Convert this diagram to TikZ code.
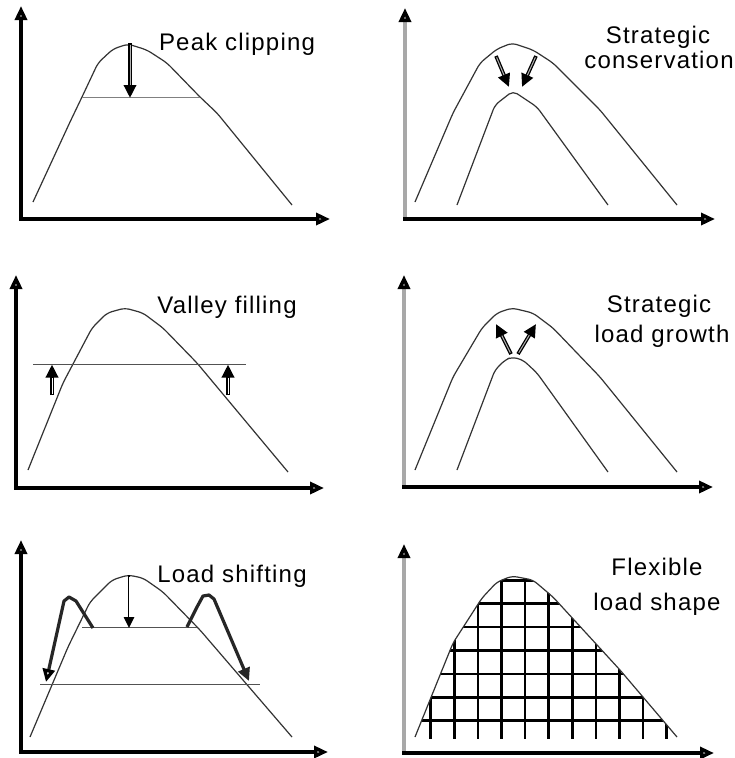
\documentclass[tikz,border=0pt]{standalone}
\usepackage{fontspec}
\setmainfont{Liberation Sans}[LetterSpace=5]
\usetikzlibrary{arrows.meta}
\definecolor{curvec}{HTML}{333333}
\definecolor{axgray}{HTML}{A8A8A8}
\tikzset{
  curve/.style={draw=curvec, line width=1.2pt, line join=round, rounded corners=5pt},
  level/.style={draw=curvec!85, line width=1pt},
  axisk/.style={draw=black, line width=3.4pt, -{Triangle[length=14pt,width=12pt,fill=gray!45]}},
  axisg/.style={draw=axgray, line width=3.4pt, -{Triangle[length=14pt,width=12pt,fill=gray!45,color=black]}},
  harrow/.style={draw=black, line width=3.6pt, -{Triangle[length=13pt,width=12pt]}},
  hinner/.style={draw=gray!60, line width=1pt, shorten >=13pt, shorten <=1.5pt},
  hump/.style={draw=black!85, line width=3.2pt, line join=round},
  lab/.style={anchor=base, inner sep=0pt, font=\fontsize{24}{25}\selectfont},
  gridl/.style={draw=black, line width=2.6pt}
}
\newcommand{\hollowarr}[3][gray!60]{%
  \draw[harrow] #2 -- #3;
  \draw[hinner, draw=#1] #2 -- #3;}
\begin{document}
\begin{tikzpicture}[x=1pt,y=-1pt]
\useasboundingbox (0,0) rectangle (734,758);
\fill[white] (0,0) rectangle (734,758);

% ---------- Panel 1: Peak clipping
\draw[axisk] (21,220) -- (21,6);
\draw[axisk] (19.3,219) -- (330,219);
\draw[curve] (33,202) -- (70,122) -- (82,97) -- (98,63) -- (113,49) -- (128,44) -- (147,50) -- (167,63) -- (200,97) -- (217,113) -- (292,205);
\draw[level, draw=gray] (82,97) -- (200,97);
\hollowarr{(130,43)}{(130,98)}
\node[lab] (t1) at (237,50) {Peak clipping};

% ---------- Panel 2: Strategic conservation
\draw[axisg] (405,220) -- (405,8);
\draw[axisk] (403.3,219) -- (715,219);
\draw[curve] (415,202) -- (453,113) -- (480,63) -- (497,49) -- (512,43) -- (533,50) -- (553,63) -- (600,110) -- (677,205);
\draw[curve] (457,205) -- (495,105) -- (513,91) -- (537,107) -- (608,205);
\hollowarr{(496,56)}{(509,87)}
\hollowarr{(536,56)}{(522,87)}
\node[lab] (t2a) at (658,43) {Strategic};
\node[lab] (t2b) at (659,68) {conservation};

% ---------- Panel 3: Valley filling
\draw[axisk] (16,489) -- (16,275);
\draw[axisk] (14.3,488) -- (324,488);
\draw[curve] (28,470) -- (63,383) -- (92,328) -- (107,313) -- (125,308) -- (143,313) -- (163,328) -- (197,363) -- (288,472);
\draw[level] (33,364) -- (246,364);
\hollowarr[white]{(52,395)}{(52,364.5)}
\hollowarr[white]{(228,395)}{(228,364.5)}
\node[lab] (t3) at (227,313) {Valley filling};

% ---------- Panel 4: Strategic load growth
\draw[axisg] (404,488) -- (404,275);
\draw[axisk] (402.3,487) -- (713,487);
\draw[curve] (415,470) -- (453,377) -- (482,328) -- (497,313) -- (512,308) -- (533,313) -- (553,328) -- (600,377) -- (677,472);
\draw[curve] (457,470) -- (495,370) -- (505,360) -- (512,357) -- (523,360) -- (537,373) -- (608,472);
\hollowarr{(511,354)}{(496,324)}
\hollowarr{(518,354)}{(536,324)}
\node[lab] (t4a) at (659,312) {Strategic};
\node[lab] (t4b) at (662,342) {load growth};

% ---------- Panel 5: Load shifting
\draw[axisk] (21,753) -- (21,540);
\draw[axisk] (19.3,752) -- (328,752);
\draw[curve] (30,737) -- (68,647) -- (90,602) -- (112,580) -- (128,575) -- (143,578) -- (163,592) -- (200,630) -- (292,737);
\draw[level] (82,627) -- (197,627);
\draw[level] (40,684) -- (260,684);
\draw[black, line width=2.4pt, -{Triangle[length=11pt,width=10pt]}] (129,575) -- (129,628);
\draw[white, line width=0.8pt, shorten >=11pt, shorten <=1.5pt] (129,575) -- (129,628);
\draw[hump, -{Triangle[length=13pt,width=12pt,fill=white,color=black]}] (93,628) -- (76,601) -- (69,597) -- (64,601) -- (46,682);
\draw[hump, -{Triangle[length=13pt,width=12pt]}] (187,627) -- (197,607) -- (203,596) -- (209,595) -- (214,599) -- (249,681);
\node[lab] (t5) at (232,582) {Load shifting};

% ---------- Panel 6: Flexible load shape
\begin{scope}
\clip[rounded corners=5pt] (415,737) -- (453,643) -- (482,598) -- (497,582) -- (512,576) -- (533,580) -- (553,597) -- (620,670) -- (677,737) -- (677,739) -- (415,739) -- cycle;
\foreach \k in {0,...,10} {
  \draw[gridl] ({430.7+23.6*\k},570) -- ({430.7+23.6*\k},739);
}
\foreach \k in {0,...,6} {
  \draw[gridl] (410,{720.7-23.4*\k}) -- (690,{720.7-23.4*\k});
}
\end{scope}
\draw[axisg] (404,754) -- (404,544);
\draw[axisk] (402.3,753) -- (714,753);
\draw[curve] (415,737) -- (453,643) -- (482,598) -- (497,582) -- (512,576) -- (533,580) -- (553,597) -- (620,670) -- (677,737);
\node[lab] (t6a) at (657,575) {Flexible};
\node[lab] (t6b) at (657,610) {load shape};
\end{tikzpicture}
\end{document}
